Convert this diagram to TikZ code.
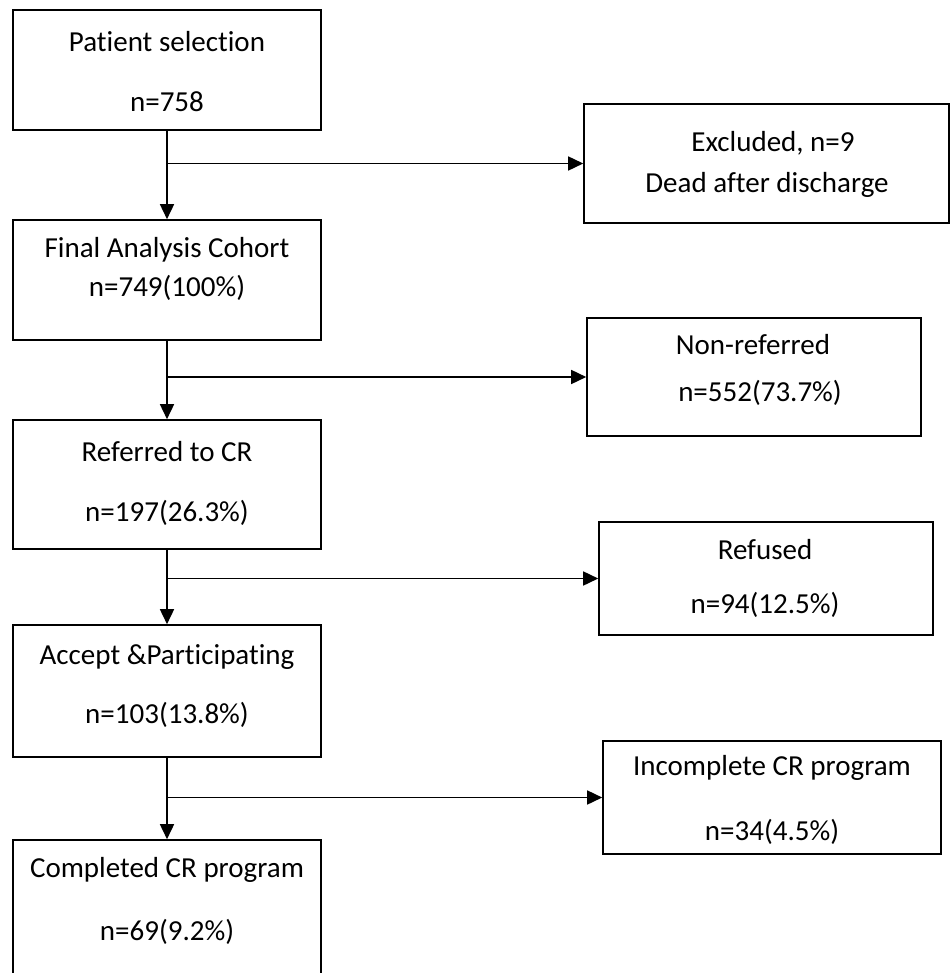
\documentclass[tikz,border=0pt]{standalone}
\usepackage{fontspec}
\setmainfont{Carlito}[Ligatures=NoCommon]
\usetikzlibrary{arrows.meta}

\begin{document}
\begin{tikzpicture}[x=1pt, y=-1pt,
  box/.style={draw, line width=1.6pt, inner sep=0pt},
  arr/.style={-{Triangle[length=15pt, width=14pt]}, line width=1.6pt},
  every node/.style={font=\fontsize{29}{35}\selectfont}]

\useasboundingbox (0,0) rectangle (951,973);
\clip (0,0) rectangle (951,973);

\node[box, minimum width=308pt, minimum height=120pt] (sel) at (167,70) {};
\node[box, minimum width=308pt, minimum height=120pt] (final) at (167,280) {};
\node[box, minimum width=308pt, minimum height=129pt] (refer) at (167,484.5) {};
\node[box, minimum width=308pt, minimum height=132pt] (accept) at (167,691) {};
\node[box, minimum width=308pt, minimum height=200pt] (compl) at (167,940) {};

\node[box, minimum width=365pt, minimum height=119pt] (excl) at (766.5,163.5) {};
\node[box, minimum width=334pt, minimum height=118pt] (nonref) at (754,377) {};
\node[box, minimum width=334pt, minimum height=113pt] (refused) at (766,578.5) {};
\node[box, minimum width=338pt, minimum height=113pt] (incompl) at (772,797.5) {};

\node (seltxt) at (167,42) {Patient selection};
\node (seln) at (167,102) {n=758};
\node (finaltxt) at (167,250) {Final Analysis Cohort};
\node (finaln) at (167,288) {n=749(100\%)};
\node (refertxt) at (167,452) {Referred to CR};
\node (refern) at (167,513) {n=197(26.3\%)};
\node (accepttxt) at (167,657) {Accept \&Participating};
\node (acceptn) at (167,715) {n=103(13.8\%)};
\node (compltxt) at (167,870) {Completed CR program};
\node (compln) at (167,932) {n=69(9.2\%)};

\node (excltxt) at (773,143) {Excluded, n=9};
\node (excldead) at (767,185) {Dead after discharge};
\node (nonreftxt) at (753,345) {Non-referred};
\node (nonrefn) at (760,393) {n=552(73.7\%)};
\node (refusedtxt) at (765,550) {Refused};
\node (refusedn) at (765,605) {n=94(12.5\%)};
\node (incompltxt) at (772,768) {Incomplete CR program};
\node (incompln) at (772,832) {n=34(4.5\%)};

\draw[arr] (sel.south) -- (final.north);
\draw[arr] (sel.south |- excl.west) -- (excl.west);

\draw[arr] (final.south) -- (refer.north);
\draw[arr] (final.south |- nonref.west) -- (nonref.west);

\draw[arr] (refer.south) -- (accept.north);
\draw[arr] (refer.south |- refused.west) -- (refused.west);

\draw[arr] (accept.south) -- (compl.north);
\draw[arr] (accept.south |- incompl.west) -- (incompl.west);

\end{tikzpicture}
\end{document}
